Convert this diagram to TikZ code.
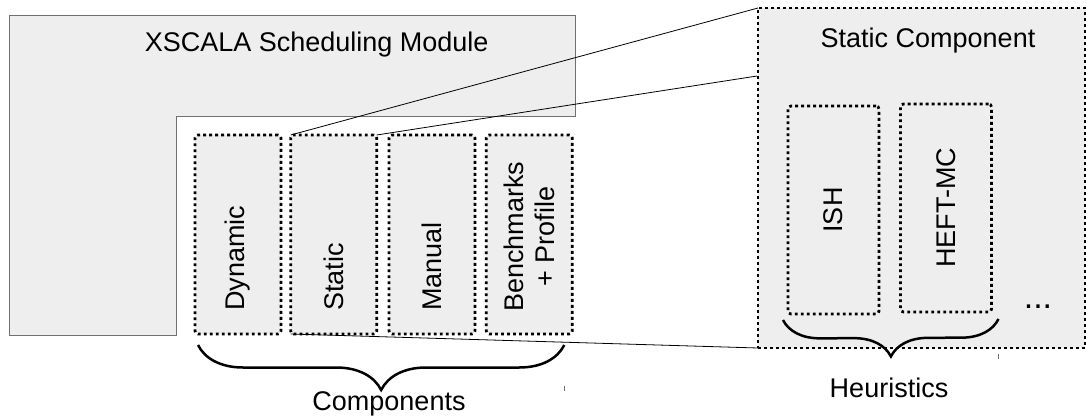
\documentclass[tikz,border=0pt]{standalone}
\usepackage{fontspec}
\setmainfont{Liberation Sans}
\usetikzlibrary{decorations.pathreplacing}
\definecolor{boxgray}{HTML}{EEEEEE}
\definecolor{edgegray}{HTML}{707070}

\begin{document}
\begin{tikzpicture}[x=1pt, y=-1pt,
        font=\fontsize{27}{31}\selectfont,
        dotbox/.style={draw=black, fill=boxgray, line width=2.8pt, dash pattern=on 2.8pt off 3.2pt, rounded corners=3pt, inner sep=0pt, outer sep=0pt},
        comp/.style={dotbox, minimum width=86pt, minimum height=199pt},
        heur/.style={dotbox, minimum width=91pt, minimum height=208pt},
        vlabel/.style={rotate=90, inner sep=0pt, align=center, anchor=west},
        curly/.style={decorate, decoration={brace, mirror, amplitude=#1}, line width=2.5pt}]

        \useasboundingbox (0,0) rectangle (1087,420);

        % scheduling module
        \draw[draw=edgegray, fill=boxgray, line width=0.8pt] (9,15) -- (575,15) -- (575,116) -- (176,116) -- (176,335) -- (9,335) -- cycle;
        \node[anchor=base] (title) at (316.7,52) {XSCALA Scheduling Module};

        % components
        \node[comp] (dyn) at (238,234.5) {};
        \node[comp] (sta) at (333.7,234.5) {};
        \node[comp] (man) at (432,234.5) {};
        \node[comp] (ben) at (529.3,234.5) {};

        \node[vlabel] (dynlbl) at ([yshift=23pt]dyn.south) {Dynamic};
        \node[vlabel] (stalbl) at ([yshift=23pt]sta.south) {Static};
        \node[vlabel] (manlbl) at ([yshift=23pt]man.south) {Manual};
        \node[vlabel] (benlbl) at ([yshift=22pt]ben.south) {Benchmarks\\+ Profile};

        % zoomed static component
        \node[dotbox, rounded corners=0pt, minimum width=327pt, minimum height=340pt] (stcomp) at (921.5,178) {};
        \node[anchor=base] (sttitle) at (928,47.7) {Static Component};
        \coordinate (zoomin) at (757,76);

        \draw[line width=0.8pt] (sta.north west) -- (stcomp.north west);
        \draw[line width=0.8pt] (sta.north east) -- (zoomin);
        \draw[line width=0.8pt] (sta.south west) -- (stcomp.south west);

        \node[heur] (ish) at (833.5,210) {};
        \node[heur] (heft) at (946,208) {};
        \node[rotate=90] (ishlbl) at (ish.center) {ISH};
        \node[rotate=90] (heftlbl) at (heft.center) {HEFT-MC};
        \node[anchor=base, font=\fontsize{34}{40}\selectfont] (more) at (1038,308) {...};

        % braces
        \draw[curly=45pt] ([shift={(3,11)}]dyn.south west) -- ([shift={(-8,11)}]ben.south east);
        \draw[curly=37pt] ([shift={(-5,6)}]ish.south west) -- ([shift={(7,7)}]heft.south east);
        \node[anchor=base] (complbl) at (389,410.7) {Components};
        \node[anchor=base] (heurlbl) at (889,397) {Heuristics};

        \draw[edgegray, line width=0.8pt] (564.5,386) -- (564.5,391);
        \draw[edgegray, line width=0.8pt] (998.6,354) -- (998.6,359);

    \end{tikzpicture}
\end{document}
